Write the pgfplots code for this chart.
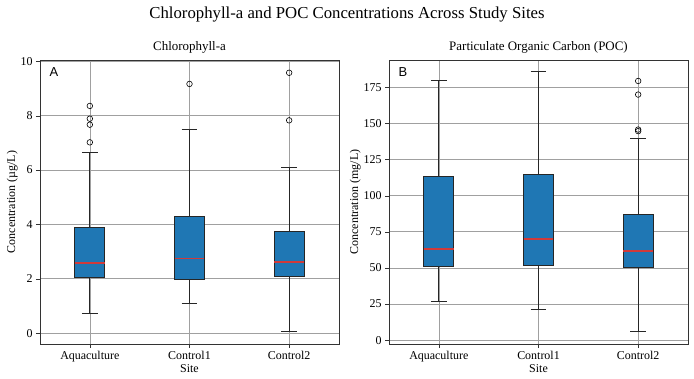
\documentclass[border=0pt]{standalone}
\usepackage{pgfplots}
\pgfplotsset{compat=1.18}
\usepgfplotslibrary{statistics}
\usepackage{fontspec}
\setmainfont{Liberation Serif}
\newfontfamily\panelfont{Liberation Sans}

\definecolor{boxblue}{HTML}{1F77B4}
\definecolor{medred}{HTML}{D03A3A}
\definecolor{gridgray}{HTML}{A0A0A0}

\pgfplotsset{
  siteaxis/.style={
    scale only axis,
    width=299bp, height=284bp,
    xmin=0.5, xmax=3.5,
    xtick={1,2,3},
    xticklabels={Aquaculture,Control1,Control2},
    xlabel={Site},
    grid=both,
    major grid style={gridgray, line width=0.6pt},
    axis line style={black!80, line width=0.7pt},
    tick style={black!80},
    tick align=outside,
    major tick length=4bp,
    xtick pos=bottom, ytick pos=left,
    /pgf/number format/assume math mode=true,
    tick label style={font=\fontsize{12}{14}\selectfont},
    label style={font=\fontsize{12}{14}\selectfont},
    title style={font=\fontsize{13}{15}\selectfont, yshift=-3bp},
    xlabel style={yshift=5bp},
    ylabel style={yshift=-4bp},
    boxplot/draw direction=y,
    boxplot/box extend=0.3,
    boxplot/whisker extend=0.16,
    boxplot/every box/.style={fill=boxblue, draw=black!85, line width=0.8pt},
    boxplot/every whisker/.style={black!85, line width=0.8pt},
    boxplot/every median/.style={draw=medred, line width=1.5pt},
    mark options={draw=black, fill=none, line width=0.6pt},
  },
}

\begin{document}
\begin{tikzpicture}
\path[use as bounding box] (0bp,0bp) rectangle (694bp,379bp);

\node[font=\fontsize{16.8}{20}\selectfont] at (347bp,364bp) {Chlorophyll-a and POC Concentrations Across Study Sites};

% Panel A: chlorophyll-a
\begin{axis}[siteaxis,
  at={(40bp,35bp)}, anchor=south west,
  ymin=-0.4, ymax=10.05,
  ytick={0,2,4,6,8,10},
  title={Chlorophyll-a},
  ylabel={Concentration (µg/L)},
]
\addplot+[boxplot prepared={draw position=1,
  lower whisker=0.72, lower quartile=2.04, median=2.58,
  upper quartile=3.89, upper whisker=6.64},
  mark=o, mark size=2.8bp, black]
  coordinates {(0,8.36) (0,7.89) (0,7.67) (0,7.02)};
\addplot+[boxplot prepared={draw position=2,
  lower whisker=1.08, lower quartile=1.98, median=2.74,
  upper quartile=4.30, upper whisker=7.49},
  mark=o, mark size=2.8bp, black]
  coordinates {(0,9.17)};
\addplot+[boxplot prepared={draw position=3,
  lower whisker=0.07, lower quartile=2.07, median=2.62,
  upper quartile=3.74, upper whisker=6.08},
  mark=o, mark size=2.8bp, black]
  coordinates {(0,9.58) (0,7.83)};
\node[anchor=north west, font=\panelfont\fontsize{13}{15}\selectfont]
  at (rel axis cs:0.02,0.985) {A};
\end{axis}

% Panel B: particulate organic carbon
\begin{axis}[siteaxis,
  at={(389bp,35bp)}, anchor=south west,
  ymin=-2.6, ymax=193.8,
  ytick={0,25,50,75,100,125,150,175},
  title={Particulate Organic Carbon (POC)},
  ylabel={Concentration (mg/L)},
]
\addplot+[boxplot prepared={draw position=1,
  lower whisker=26.7, lower quartile=51.3, median=63.0,
  upper quartile=113.5, upper whisker=179.6},
  black]
  coordinates {};
\addplot+[boxplot prepared={draw position=2,
  lower whisker=21.2, lower quartile=51.6, median=70.0,
  upper quartile=114.4, upper whisker=185.6},
  black]
  coordinates {};
\addplot+[boxplot prepared={draw position=3,
  lower whisker=6.2, lower quartile=50.2, median=61.7,
  upper quartile=86.8, upper whisker=139.3},
  mark=o, mark size=2.8bp, black]
  coordinates {(0,179.3) (0,169.9) (0,145.7) (0,144.6)};
\node[anchor=north west, font=\panelfont\fontsize{13}{15}\selectfont]
  at (rel axis cs:0.02,0.985) {B};
\end{axis}
\end{tikzpicture}
\end{document}
